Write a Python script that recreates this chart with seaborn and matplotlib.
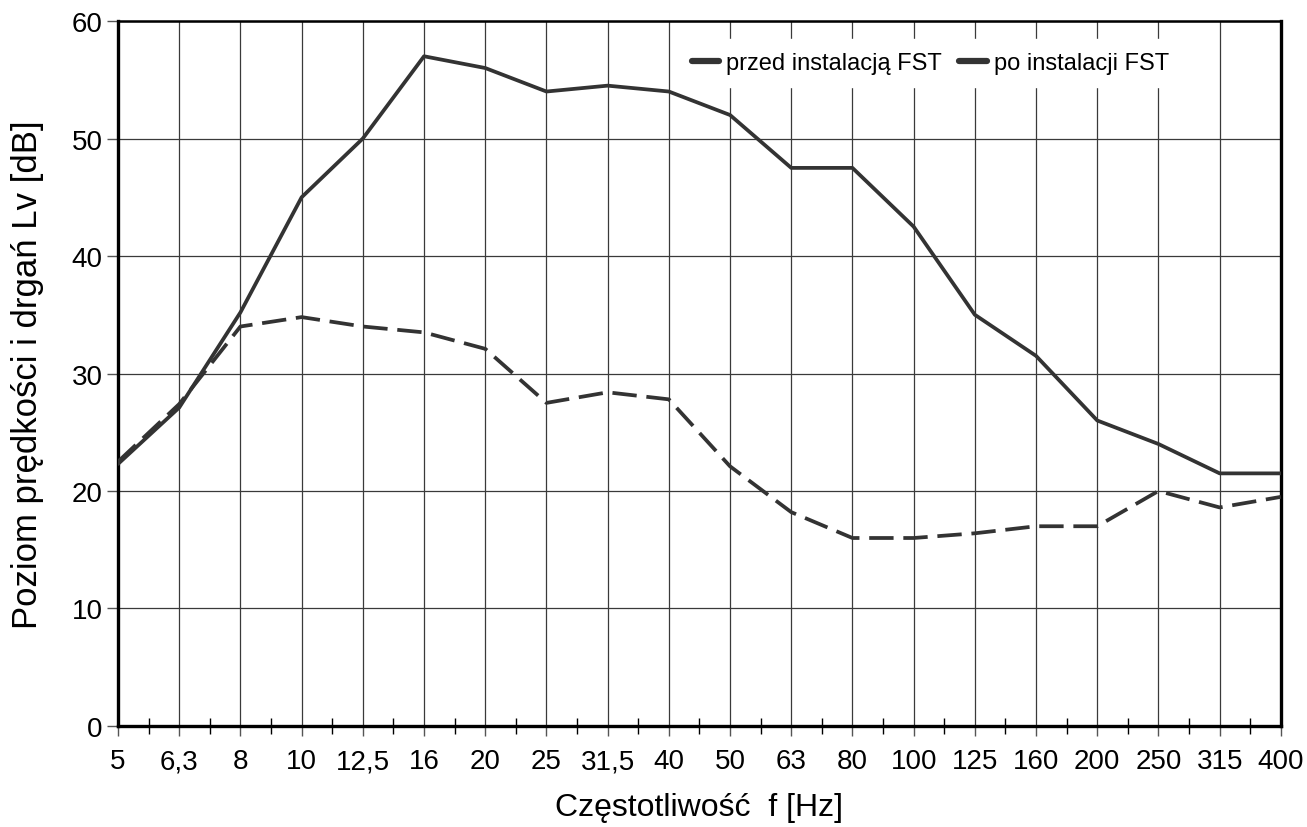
import matplotlib
matplotlib.use("Agg")
import matplotlib.pyplot as plt
from matplotlib.lines import Line2D
from matplotlib.ticker import MultipleLocator
import numpy as np
import pandas as pd
import seaborn as sns

# tercje czestotliwosci [Hz]
freqs = ["5", "6,3", "8", "10", "12,5", "16", "20", "25", "31,5", "40",
         "50", "63", "80", "100", "125", "160", "200", "250", "315", "400"]

# poziom predkosci drgan Lv [dB]
lv_przed = [22.3, 27.1, 35.2, 45.0, 50.0, 57.0, 56.0, 54.0, 54.5, 54.0,
            52.0, 47.5, 47.5, 42.5, 35.0, 31.5, 26.0, 24.0, 21.5, 21.5]
lv_po = [22.5, 27.4, 34.0, 34.8, 34.0, 33.5, 32.1, 27.5, 28.4, 27.8,
         22.1, 18.2, 16.0, 16.0, 16.4, 17.0, 17.0, 20.0, 18.6, 19.5]

label_przed = "przed instalacją FST"
label_po = "po instalacji FST"

df = pd.concat([
    pd.DataFrame({"f": freqs, "Lv": lv_przed, "seria": label_przed}),
    pd.DataFrame({"f": freqs, "Lv": lv_po, "seria": label_po}),
])

sns.set_style("white")
plt.rcParams["font.family"] = ["Liberation Sans", "DejaVu Sans"]
plt.rcParams["text.color"] = "black"
plt.rcParams["axes.labelcolor"] = "black"
plt.rcParams["xtick.labelcolor"] = "black"
plt.rcParams["ytick.labelcolor"] = "black"

line_col = "#333333"

fig = plt.figure(figsize=(13.07, 8.28), dpi=100)
ax = fig.add_axes([0.0903, 0.122, 0.8897, 0.8514])

sns.lineplot(data=df, x="f", y="Lv", hue="seria", style="seria",
             palette={label_przed: line_col, label_po: line_col},
             dashes={label_przed: "", label_po: (6.5, 2.6)},
             linewidth=2.7, sort=False, legend=False, ax=ax, zorder=3)

ax.set_xlim(0, len(freqs) - 1)
ax.set_ylim(0, 60)
ax.yaxis.set_major_locator(MultipleLocator(10))
ax.xaxis.set_minor_locator(MultipleLocator(0.5))

ax.grid(True, which="major", color="#3a3a3a", linewidth=0.9, zorder=0)
ax.set_axisbelow(True)

for side in ["left", "bottom", "right"]:
    ax.spines[side].set_linewidth(2.4)
    ax.spines[side].set_color("black")
ax.spines["top"].set_linewidth(1.8)
ax.spines["top"].set_color("black")

ax.tick_params(axis="y", which="major", direction="out", length=8, width=1,
               color="#555555", labelsize=20, pad=3, left=True,
               labelcolor="black")
ax.tick_params(axis="x", which="major", direction="out", length=7, width=1,
               color="#555555", labelsize=20, pad=9, bottom=True,
               labelcolor="black")
ax.tick_params(axis="x", which="minor", direction="inout", length=12,
               width=1, color="black", bottom=True)

ax.set_xlabel("Częstotliwość  f [Hz]", fontsize=23, labelpad=13,
              color="black")
ax.set_ylabel("Poziom prędkości i drgań Lv [dB]", fontsize=25, labelpad=20,
              color="black")

handles = [Line2D([], [], color=line_col, linewidth=4.5),
           Line2D([], [], color=line_col, linewidth=4.5)]
leg = ax.legend(handles, [label_przed, label_po], ncol=2,
                loc="upper right", bbox_to_anchor=(0.925, 0.991),
                frameon=True, fontsize=17, handlelength=1.15,
                handletextpad=0.3, columnspacing=0.75, borderpad=0.55,
                labelcolor="black")
leg.get_frame().set_edgecolor("white")
leg.get_frame().set_facecolor("white")
leg.get_frame().set_alpha(1.0)
leg.get_frame().set_boxstyle("square", pad=0.0)

fig.savefig("out.png", dpi=100)
